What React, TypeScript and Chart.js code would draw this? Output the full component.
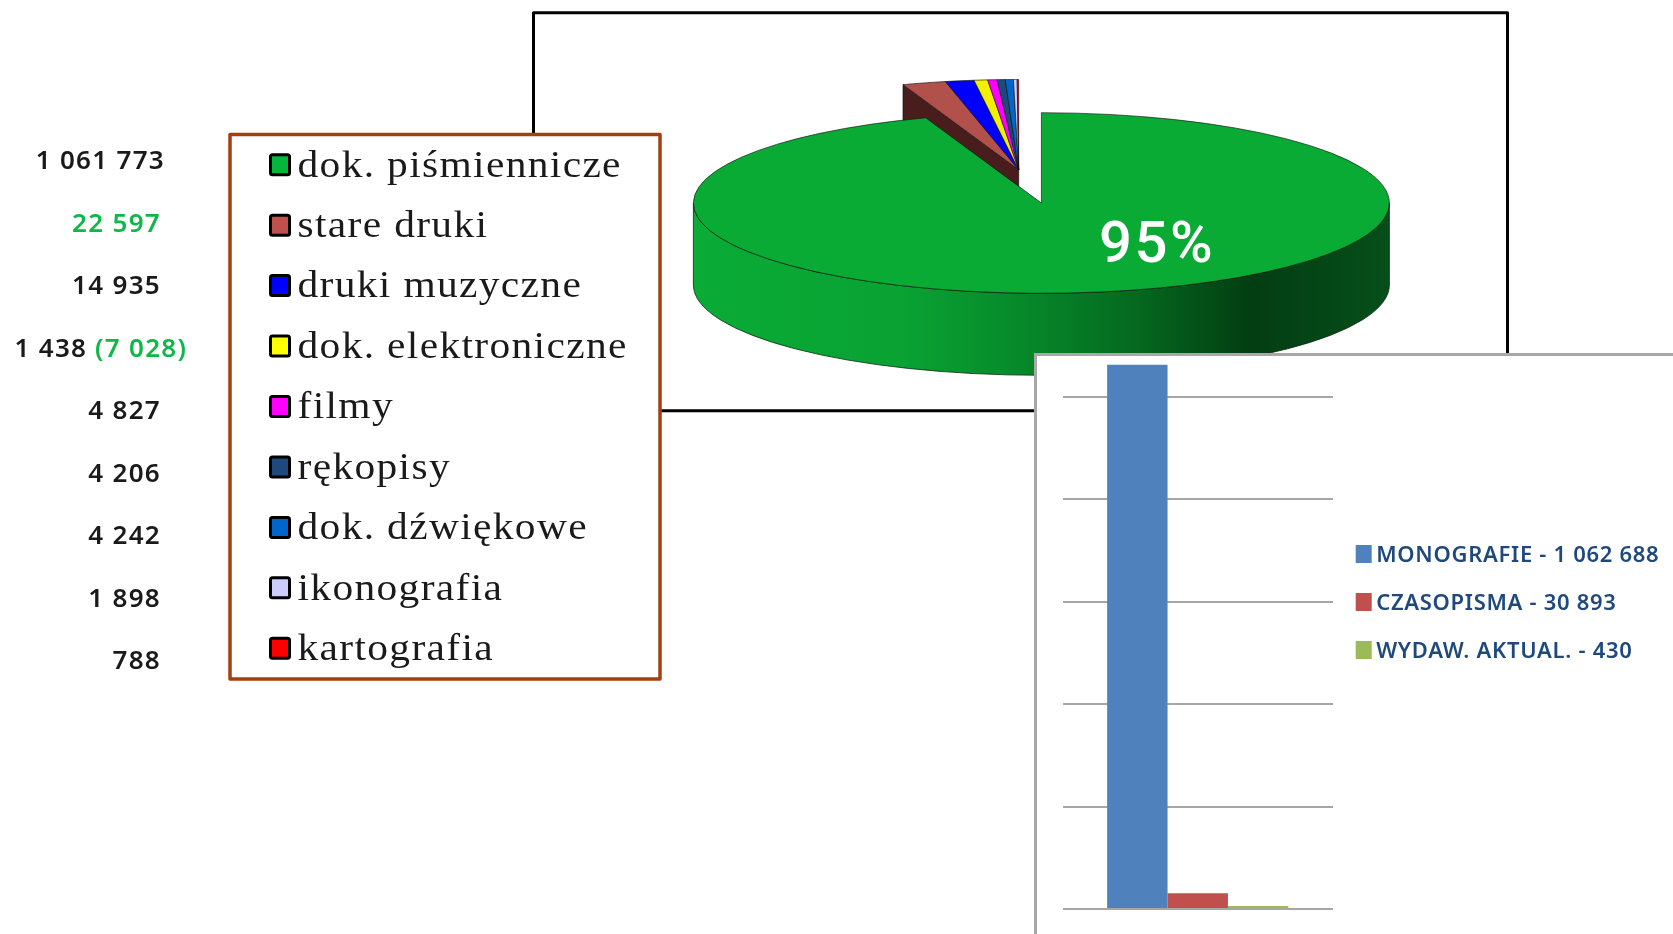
import React, { useEffect, useRef } from "react";
import { Chart, registerables } from "chart.js";

Chart.register(...registerables);

const categories = ["dok. piśmiennicze", "stare druki", "druki muzyczne", "dok. elektroniczne", "filmy", "rękopisy", "dok. dźwiękowe", "ikonografia", "kartografia"];
const pieValues = [1061773, 22597, 14935, 7028, 4827, 4206, 4242, 1898, 788];
const sliceColors = ["#09AB35", "#B2504C", "#0000FF", "#F2F200", "#FF00FF", "#1F497D", "#0066CC", "#CCCCFF", "#FF0000"];
const swatchColors = ["#05B63C", "#C0504D", "#0000FF", "#FFFF00", "#FF00FF", "#1F497D", "#0066CC", "#CCCCFF", "#FF0000"];
const countLabels = ["1 061 773", "22 597", "14 935", "1 438", "4 827", "4 206", "4 242", "1 898", "788"];
const countExtra = "(7 028)";
const GREEN_TEXT = "#0DB848";

const barLabels = ["MONOGRAFIE - 1 062 688", "CZASOPISMA - 30 893", "WYDAW. AKTUAL. - 430"];
const barValues = [1062688, 30893, 430];
const barColors = ["#4F81BD", "#C0504D", "#9BBB59"];
const barTicks = [0, 200000, 400000, 600000, 800000, 1000000];

const W = 1673, H = 934;
const RX = 348, RY = 90.3, DEPTH = 82;
const MAIN = { x: 1041.4, y: 203 };
const GROUP = { x: 1018.7, y: 169.8 };

function drawArc(ctx: any, arc: any, c: { x: number; y: number }) {
  ctx.save();
  ctx.translate(c.x, c.y);
  ctx.scale(1, RY / RX);
  ctx.translate(-arc.x, -arc.y);
  arc.draw(ctx);
  ctx.restore();
}

const pagePlugin = {
  id: "page",
  beforeDraw(chart: any) {
    const ctx = chart.ctx;
    ctx.save();
    ctx.strokeStyle = "#000";
    ctx.lineWidth = 3;
    ctx.lineJoin = "round";
    ctx.strokeRect(533.5, 12.8, 974, 398);
    ctx.restore();
  },
  beforeDatasetsDraw(chart: any) {
    const ctx = chart.ctx;
    const arcs = chart.getDatasetMeta(0).data;

    // cut face of the pulled-out group
    const a = arcs[1].startAngle;
    const ex = GROUP.x + RX * Math.cos(a), ey = GROUP.y + RY * Math.sin(a);
    ctx.save();
    ctx.fillStyle = "#4A1D1D";
    ctx.strokeStyle = "#111";
    ctx.lineWidth = 0.7;
    ctx.beginPath();
    ctx.moveTo(GROUP.x, GROUP.y);
    ctx.lineTo(ex, ey);
    ctx.lineTo(ex, ey + DEPTH);
    ctx.lineTo(GROUP.x, GROUP.y + DEPTH);
    ctx.closePath();
    ctx.fill();
    ctx.stroke();
    ctx.restore();
    for (let i = 1; i < arcs.length; i++) drawArc(ctx, arcs[i], GROUP);

    // rim of the main slice
    const g = ctx.createLinearGradient(MAIN.x - RX, 0, MAIN.x + RX, 0);
    g.addColorStop(0, "#0AAB36");
    g.addColorStop(0.3, "#09A233");
    g.addColorStop(0.45, "#078C2B");
    g.addColorStop(0.63, "#056A20");
    g.addColorStop(0.8, "#033D12");
    g.addColorStop(1, "#054F1A");
    ctx.save();
    ctx.fillStyle = g;
    ctx.strokeStyle = "#0a2a12";
    ctx.lineWidth = 0.8;
    ctx.beginPath();
    ctx.ellipse(MAIN.x, MAIN.y, RX, RY, 0, 0, Math.PI);
    ctx.ellipse(MAIN.x, MAIN.y + DEPTH, RX, RY, 0, Math.PI, 0, true);
    ctx.closePath();
    ctx.fill();
    ctx.stroke();
    ctx.restore();
    drawArc(ctx, arcs[0], MAIN);

    // percentage on the main slice
    const total = pieValues.reduce((s, v) => s + v, 0);
    ctx.save();
    ctx.fillStyle = "#fff";
    ctx.font = "500 58px Roboto";
    ctx.letterSpacing = "2.5px";
    ctx.textAlign = "left";
    ctx.textBaseline = "alphabetic";
    ctx.fillText(Math.round((pieValues[0] / total) * 100) + "%", 1099, 262);
    ctx.letterSpacing = "0px";
    ctx.restore();
    return false;
  },
  afterDraw(chart: any) {
    const ctx = chart.ctx;
    ctx.save();
    // legend box
    ctx.fillStyle = "#fff";
    ctx.strokeStyle = "#A43F10";
    ctx.lineWidth = 3.5;
    ctx.lineJoin = "round";
    ctx.fillRect(230, 134.5, 430, 544.5);
    ctx.strokeRect(230, 134.5, 430, 544.5);
    ctx.textBaseline = "alphabetic";
    categories.forEach((name, i) => {
      const cy = 164.7 + i * 60.45;
      ctx.fillStyle = swatchColors[i];
      ctx.strokeStyle = "#000";
      ctx.lineWidth = 3;
      ctx.beginPath();
      ctx.roundRect(270.5, cy - 10, 19, 20, 2);
      ctx.fill();
      ctx.stroke();
      ctx.save();
      ctx.translate(297.5, cy + 11.8);
      ctx.scale(1.12, 1);
      ctx.fillStyle = "#1a1a1a";
      ctx.font = "37px 'Liberation Serif'";
      ctx.letterSpacing = "1.2px";
      ctx.fillText(name, 0, 0);
      ctx.letterSpacing = "0px";
      ctx.restore();
    });
    // printed counts
    ctx.font = "600 26px 'Noto Sans'";
    ctx.letterSpacing = "1.3px";
    countLabels.forEach((label, i) => {
      const cy = 169 + i * 62.5;
      if (i === 3) {
        ctx.textAlign = "left";
        ctx.fillStyle = "#1a1a1a";
        ctx.fillText(label, 14.5, cy);
        ctx.fillStyle = GREEN_TEXT;
        ctx.fillText(countExtra, 95, cy);
      } else {
        ctx.textAlign = "right";
        ctx.fillStyle = i === 1 ? GREEN_TEXT : "#1a1a1a";
        ctx.fillText(label, i === 0 ? 165 : 161, cy);
      }
    });
    ctx.letterSpacing = "0px";
    ctx.restore();
  },
};

const barLegendPlugin = {
  id: "barLegend",
  afterDraw(chart: any) {
    const ctx = chart.ctx;
    const left = chart.chartArea.right + 22.7;
    ctx.save();
    ctx.textBaseline = "alphabetic";
    chart.data.datasets.forEach((d: any, i: number) => {
      const cy = 197 + i * 48;
      ctx.fillStyle = d.backgroundColor;
      ctx.fillRect(left, cy - 9, 16, 18);
      ctx.fillStyle = "#1F497D";
      ctx.font = "600 22px 'Noto Sans'";
      ctx.letterSpacing = "0.7px";
      ctx.fillText(d.label, left + 20.5, cy + 8);
      ctx.letterSpacing = "0px";
    });
    ctx.restore();
  },
};

export default function App() {
  const pieRef = useRef<HTMLCanvasElement>(null);
  const barRef = useRef<HTMLCanvasElement>(null);

  useEffect(() => {
    const pie = new Chart(pieRef.current as any, {
      type: "pie",
      data: {
        labels: categories,
        datasets: [{
          data: pieValues,
          backgroundColor: sliceColors,
          borderColor: "#101010",
          borderWidth: 1,
          radius: RX,
        }],
      },
      options: {
        animation: false,
        responsive: false,
        plugins: { legend: { display: false }, tooltip: { enabled: false } },
      },
      plugins: [pagePlugin],
    } as any);

    const bar = new Chart(barRef.current as any, {
      type: "bar",
      data: {
        labels: [""],
        datasets: barLabels.map((label, i) => ({
          label,
          data: [barValues[i]],
          backgroundColor: barColors[i],
          minBarLength: i === 2 ? 3 : 0,
        })),
      },
      options: {
        animation: false,
        responsive: false,
        layout: { padding: { left: 25.5, right: 340, top: 0, bottom: 25 } },
        datasets: { bar: { categoryPercentage: 0.67, barPercentage: 1 } },
        scales: {
          x: { display: false },
          y: {
            min: 0,
            max: 1078000,
            grid: { color: "#A6A6A6", lineWidth: 2, drawTicks: false },
            border: { display: false },
            ticks: { display: false },
            afterBuildTicks: (scale: any) => {
              scale.ticks = barTicks.map((value) => ({ value }));
            },
          },
        },
        plugins: { legend: { display: false }, tooltip: { enabled: false } },
      },
      plugins: [barLegendPlugin],
    } as any);

    return () => {
      pie.destroy();
      bar.destroy();
    };
  }, []);

  return (
    <div style={{ position: "fixed", left: 0, top: 0, width: W, height: H, overflow: "hidden", background: "#fff" }}>
      <canvas ref={pieRef} width={W} height={H} style={{ position: "absolute", left: 0, top: 0 }} />
      <div style={{ position: "absolute", left: 1034, top: 353, width: 639, height: 581, background: "#fff", borderLeft: "3px solid #A8A8A8", borderTop: "3px solid #A8A8A8", boxSizing: "border-box" }} />
      <canvas ref={barRef} width={636} height={577} style={{ position: "absolute", left: 1037, top: 357 }} />
    </div>
  );
}
